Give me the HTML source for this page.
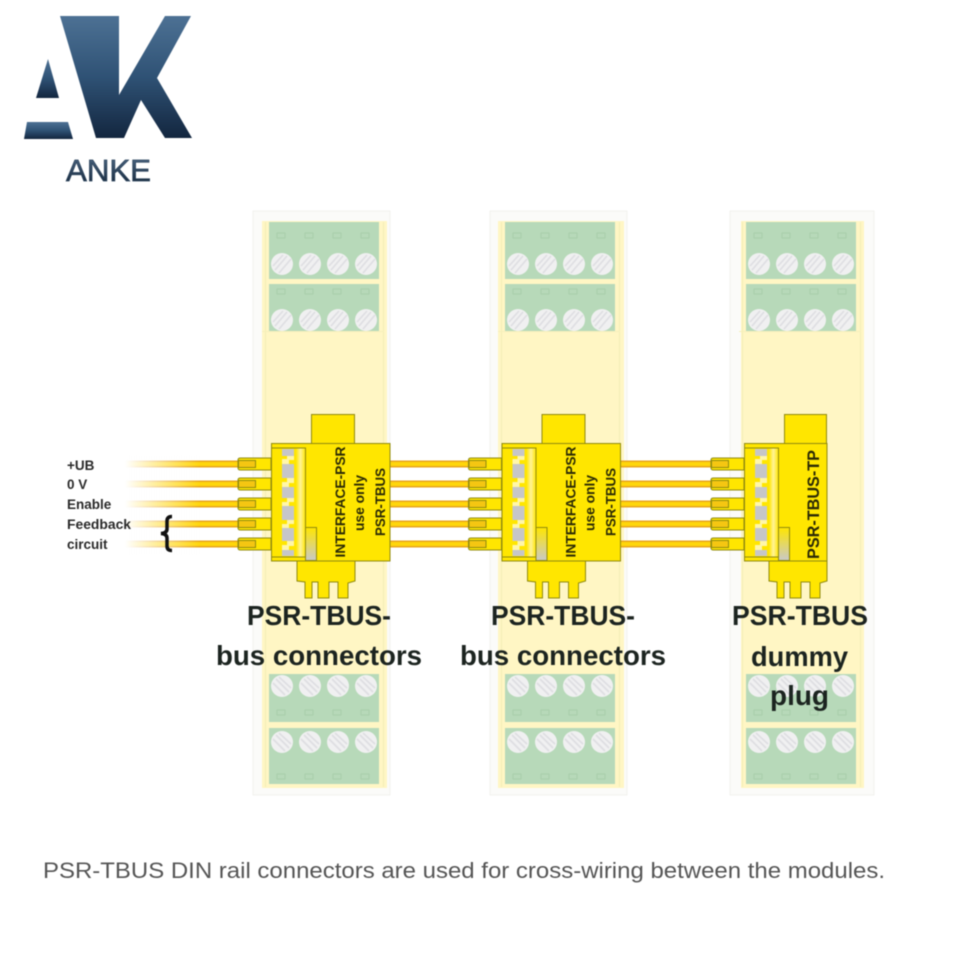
<!DOCTYPE html>
<html><head><meta charset="utf-8"><style>
html,body{margin:0;padding:0;background:#fff}
svg{display:block}
text{font-family:"Liberation Sans",sans-serif}
.lbl{font-weight:bold;font-size:27.3px;fill:#1c2420}
.sm{font-weight:bold;font-size:13.5px;fill:#2a2a2a}
.vt{font-weight:bold;fill:#2b2a05;text-anchor:middle}
.soft{filter:blur(.45px)}
</style></head><body>
<svg width="960" height="960" viewBox="0 0 960 960" xmlns="http://www.w3.org/2000/svg">
<defs>
<linearGradient id="lg" x1="0" y1="0" x2="0" y2="1"><stop offset="0" stop-color="#4d7194"/><stop offset=".5" stop-color="#2f5275"/><stop offset="1" stop-color="#13263f"/></linearGradient>
<linearGradient id="lg2" gradientUnits="userSpaceOnUse" x1="0" y1="158" x2="0" y2="182"><stop offset="0" stop-color="#4a6480"/><stop offset="1" stop-color="#1a2c40"/></linearGradient>
<linearGradient id="fade" x1="0" y1="0" x2="1" y2="0"><stop offset="0" stop-color="#fff" stop-opacity="1"/><stop offset="1" stop-color="#fff" stop-opacity="0"/></linearGradient>
<linearGradient id="sq" x1="0" y1="0" x2="0" y2="1"><stop offset="0" stop-color="#ffe600"/><stop offset="1" stop-color="#c9c9c9"/></linearGradient>
<linearGradient id="pn" x1="0" y1="0" x2="1" y2="0"><stop offset="0" stop-color="#ffe600"/><stop offset=".72" stop-color="#ffe600"/><stop offset=".85" stop-color="#fff39a"/><stop offset="1" stop-color="#ffe600"/></linearGradient>
<g id="sc">
<circle r="11" fill="#f0f0f1"/>
<path d="M-7 6L5 -8M-3 9L9 -5M-9 2L1 -9" stroke="#dedee2" stroke-width="1.6" fill="none"/>
</g>
<g id="scb">
<circle r="11" fill="#f0f0f1"/>
<path d="M-6 -7L7 6M-9 -3L3 9M-3 -9L9 2" stroke="#dedee2" stroke-width="1.6" fill="none"/>
</g>
<g id="ms">
<rect x="-4" y="9" width="1" height="565" fill="#f3edb6"/>
<rect x="114" y="9" width="1" height="565" fill="#f3edb6"/>
<rect x="-7" y="118" width="122" height="1" fill="#f6f0bc"/>
<rect x="0" y="9" width="110" height="57" fill="#b7d9b9"/>
<rect x="0" y="71" width="110" height="47" fill="#b7d9b9"/>
<rect x="0" y="461" width="110" height="48" fill="#b7d9b9"/>
<rect x="0" y="515" width="110" height="56" fill="#b7d9b9"/>
<g fill="none" stroke="#a9cdab" stroke-width="1">
<rect x="8" y="20" width="8" height="5"/><rect x="36" y="20" width="8" height="5"/><rect x="64" y="20" width="8" height="5"/><rect x="92" y="20" width="8" height="5"/>
<rect x="8" y="76" width="8" height="5"/><rect x="36" y="76" width="8" height="5"/><rect x="64" y="76" width="8" height="5"/><rect x="92" y="76" width="8" height="5"/>
<rect x="8" y="497" width="8" height="5"/><rect x="36" y="497" width="8" height="5"/><rect x="64" y="497" width="8" height="5"/><rect x="92" y="497" width="8" height="5"/>
<rect x="8" y="561" width="8" height="5"/><rect x="36" y="561" width="8" height="5"/><rect x="64" y="561" width="8" height="5"/><rect x="92" y="561" width="8" height="5"/>
</g>
<use href="#sc" x="13" y="51"/><use href="#sc" x="41" y="51"/><use href="#sc" x="69" y="51"/><use href="#sc" x="97" y="51"/>
<use href="#sc" x="13" y="107"/><use href="#sc" x="41" y="107"/><use href="#sc" x="69" y="107"/><use href="#sc" x="97" y="107"/>
<use href="#scb" x="13" y="473"/><use href="#scb" x="41" y="473"/><use href="#scb" x="69" y="473"/><use href="#scb" x="97" y="473"/>
<use href="#scb" x="13" y="529"/><use href="#scb" x="41" y="529"/><use href="#scb" x="69" y="529"/><use href="#scb" x="97" y="529"/>
</g>
<g id="wr">
<rect x="0" y="-3.5" width="1000" height="7" fill="#e8a61c"/>
<rect x="0" y="-2" width="1000" height="4" fill="#ffd60a"/>
</g>
<g id="tab" stroke="#8f8a10" fill="#ffe600">
<path d="M271 -6H240.500Q238 -6 238 -4V4Q238 6 240.500 6H271Z" stroke-width="1"/>
<rect x="238.500" y="-3.500" width="17" height="7" fill="#f5c612" stroke-width="1"/>
</g>
<g id="panel">
<use href="#tab" y="464"/><use href="#tab" y="484"/><use href="#tab" y="504"/><use href="#tab" y="524"/><use href="#tab" y="544"/>
<rect x="271.500" y="448" width="34" height="109" fill="url(#pn)" stroke="#8f8a10" stroke-width="1"/>
<rect x="282" y="449" width="12" height="107" fill="#c6c6c8"/>
<g fill="#fff6a8">
<rect x="282" y="456" width="12" height="8"/><rect x="282" y="478" width="12" height="9"/><rect x="282" y="498" width="12" height="8"/><rect x="282" y="520" width="12" height="8"/><rect x="282" y="541" width="12" height="9"/>
</g>
<g fill="#ffe600">
<rect x="282" y="456" width="5" height="3"/><rect x="289" y="460" width="5" height="4"/><rect x="282" y="478" width="5" height="4"/><rect x="289" y="483" width="5" height="4"/><rect x="282" y="498" width="5" height="4"/><rect x="289" y="502" width="5" height="4"/><rect x="282" y="520" width="5" height="4"/><rect x="289" y="524" width="5" height="4"/><rect x="282" y="541" width="5" height="4"/><rect x="289" y="546" width="5" height="4"/>
</g>
<rect x="305.500" y="527.500" width="11" height="33" fill="url(#sq)" stroke="#8f8a10" stroke-width="1"/>
</g>
<g id="bot" fill="#ffe600" stroke="#8f8a10" stroke-width="1">
<path d="M297 561H355V581L348 583V598H338V582H329V598H318V582H312V598H305V582L297 581Z"/>
</g>
</defs>

<g class="soft">
<!-- Logo -->
<polygon points="60,16 119,16 119,95 165,16 191,16 157,78 192,138 165,138 141,100 124,138 96,138" fill="url(#lg)"/>
<polygon points="48,59 59,98 36,98" fill="url(#lg)"/>
<polygon points="27,122 68,122 73,139 24,139" fill="url(#lg)"/>
<text x="66" y="181" font-size="31" textLength="85" lengthAdjust="spacingAndGlyphs" fill="url(#lg2)" stroke="#2b435c" stroke-width=".7">ANKE</text>

<!-- Modules -->
<rect x="253" y="211" width="137" height="584" fill="#fbfbf9" stroke="#f2f2ee"/>
<rect x="262" y="221" width="125" height="567" fill="#fff6c4"/>
<rect x="490" y="211" width="137" height="584" fill="#fbfbf9" stroke="#f2f2ee"/>
<rect x="498" y="221" width="126" height="567" fill="#fff6c4"/>
<rect x="730" y="211" width="144" height="584" fill="#fbfbf9" stroke="#f2f2ee"/>
<rect x="741" y="221" width="123" height="567" fill="#fff6c4"/>
<use href="#ms" x="269" y="213"/>
<use href="#ms" x="505" y="213"/>
<use href="#ms" x="746" y="213"/>

<!-- Wires -->
<g>
<svg x="125" y="450" width="113" height="110" viewBox="125 450 113 110" overflow="hidden">
<use href="#wr" x="125" y="464"/><use href="#wr" x="125" y="484"/><use href="#wr" x="125" y="504"/><use href="#wr" x="125" y="524"/><use href="#wr" x="125" y="544"/>
</svg>
<rect x="125" y="455" width="75" height="100" fill="url(#fade)"/>
<svg x="385" y="450" width="90" height="110" viewBox="385 450 90 110" overflow="hidden">
<use href="#wr" x="385" y="464"/><use href="#wr" x="385" y="484"/><use href="#wr" x="385" y="504"/><use href="#wr" x="385" y="524"/><use href="#wr" x="385" y="544"/>
</svg>
<svg x="618" y="450" width="98" height="110" viewBox="618 450 98 110" overflow="hidden">
<use href="#wr" x="618" y="464"/><use href="#wr" x="618" y="484"/><use href="#wr" x="618" y="504"/><use href="#wr" x="618" y="524"/><use href="#wr" x="618" y="544"/>
</svg>
</g>

<!-- Connector 1 -->
<g>
<rect x="311.500" y="414.500" width="43" height="29" fill="#ffe600" stroke="#8f8a10"/>
<rect x="271.500" y="443.500" width="118.500" height="117.500" fill="#ffe600" stroke="#8f8a10"/>
<use href="#bot"/>
<use href="#panel"/>
<text class="vt" font-size="14" textLength="111" lengthAdjust="spacingAndGlyphs" transform="translate(345,502) rotate(-90)">INTERFACE-PSR</text>
<text class="vt" font-size="14" textLength="56" lengthAdjust="spacingAndGlyphs" transform="translate(364,503) rotate(-90)">use only</text>
<text class="vt" font-size="14" textLength="68" lengthAdjust="spacingAndGlyphs" transform="translate(385,502) rotate(-90)">PSR-TBUS</text>
</g>
<!-- Connector 2 -->
<g transform="translate(230.500,0)">
<rect x="311.500" y="414.500" width="43" height="29" fill="#ffe600" stroke="#8f8a10"/>
<rect x="271.500" y="443.500" width="118.500" height="117.500" fill="#ffe600" stroke="#8f8a10"/>
<use href="#bot"/>
<use href="#panel"/>
<text class="vt" font-size="14" textLength="111" lengthAdjust="spacingAndGlyphs" transform="translate(345,502) rotate(-90)">INTERFACE-PSR</text>
<text class="vt" font-size="14" textLength="56" lengthAdjust="spacingAndGlyphs" transform="translate(364,503) rotate(-90)">use only</text>
<text class="vt" font-size="14" textLength="68" lengthAdjust="spacingAndGlyphs" transform="translate(385,502) rotate(-90)">PSR-TBUS</text>
</g>
<!-- Connector 3 -->
<g transform="translate(473,0)">
<rect x="311.500" y="414.500" width="42" height="29" fill="#ffe600" stroke="#8f8a10"/>
<rect x="271.500" y="443.500" width="82.500" height="117.500" fill="#ffe600" stroke="#8f8a10"/>
<use href="#bot" x="-1"/>
<use href="#panel"/>
<text class="vt" font-size="17" textLength="109" lengthAdjust="spacingAndGlyphs" transform="translate(346,504.500) rotate(-90)">PSR-TBUS-TP</text>
</g>

<!-- Side labels -->
<text class="sm" x="67" y="470">+UB</text>
<text class="sm" x="67" y="489">0 V</text>
<text class="sm" x="67" y="509">Enable</text>
<text class="sm" x="67" y="529" textLength="64" lengthAdjust="spacingAndGlyphs">Feedback</text>
<text class="sm" x="67" y="549">circuit</text>
<path d="M172 516.500Q167 516.500 167 521V529Q167 533 161 533.500Q167 534 167 538V546Q167 550.500 172 550.500" fill="none" stroke="#111" stroke-width="3.500"/>

<!-- Big labels -->
<text class="lbl" x="247" y="625" textLength="144" lengthAdjust="spacingAndGlyphs">PSR-TBUS-</text>
<text class="lbl" x="216" y="665" textLength="206" lengthAdjust="spacingAndGlyphs">bus connectors</text>
<text class="lbl" x="491" y="625" textLength="144" lengthAdjust="spacingAndGlyphs">PSR-TBUS-</text>
<text class="lbl" x="460" y="665" textLength="206" lengthAdjust="spacingAndGlyphs">bus connectors</text>
<text class="lbl" x="732" y="625" textLength="136" lengthAdjust="spacingAndGlyphs">PSR-TBUS</text>
<text class="lbl" x="751" y="666" textLength="97" lengthAdjust="spacingAndGlyphs">dummy</text>
<text class="lbl" x="770" y="705" textLength="59" lengthAdjust="spacingAndGlyphs">plug</text>

<!-- Caption -->
<text x="43" y="878" font-size="22.500" fill="#555" textLength="842" lengthAdjust="spacingAndGlyphs">PSR-TBUS DIN rail connectors are used for cross-wiring between the modules.</text>
</g>
</svg>
</body></html>
